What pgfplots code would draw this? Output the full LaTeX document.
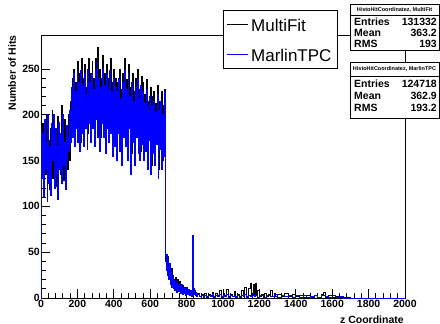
\documentclass[border=0pt]{standalone}
\usepackage{fontspec}
\setmainfont{Liberation Sans}
\usepackage{pgfplots}
\pgfplotsset{compat=1.18}
\begin{document}
\begin{tikzpicture}[x=1pt,y=1pt]
\begin{axis}[
  at={(41pt,26pt)}, anchor=south west,
  scale only axis, width=364pt, height=263pt,
  xmin=0, xmax=2000, ymin=0, ymax=287,
  xtick={0,200,...,2000}, ytick={0,50,...,250},
  minor x tick num=4, minor y tick num=4,
  tick pos=left, tick align=inside,
  major tick length=9pt, minor tick length=4.5pt,
  axis line style={line width=0.9pt},
  every tick/.style={black, line width=0.8pt},
  /pgf/number format/assume math mode=true,
  /pgf/number format/1000 sep={},
  tick label style={font=\fontsize{10.5}{12}\selectfont\bfseries},
  yticklabel style={inner sep=1pt},
  xticklabel style={inner sep=2pt},
  xlabel={z Coordinate},
  ylabel={Number of Hits},
  label style={font=\fontsize{10.5}{12}\selectfont\bfseries, inner sep=0pt},
  xlabel style={at={(axis description cs:0.997,-0.066)}, anchor=north east},
  ylabel style={at={(axis description cs:-0.068,1)}, anchor=south east},
  clip=false,
]
\addplot[black, line width=0.8pt, const plot] coordinates {
(0,0)(1,140)(5,150)(10,190)(15,125)(20,170)(25,135)(30,200)(35,140)(40,172)(45,118)(50,185)(55,150)(60,205)(65,130)(70,190)(75,155)(80,175)(85,122)(90,198)(95,145)(100,180)(105,135)(110,210)(115,150)(120,188)(125,128)(130,195)(135,160)(140,178)(145,140)(150,200)
(155,150)(160,215)(165,175)(170,240)(175,190)(180,250)(185,180)(190,235)(195,200)(200,258)(205,185)(210,245)(215,170)(220,262)(225,195)(230,240)(235,175)(240,255)(245,200)(250,230)(255,180)(260,262)(265,205)(270,245)(275,185)(280,258)(285,200)(290,240)(295,178)(300,262)(305,210)(310,273)(315,190)(320,250)(325,175)(330,240)(335,205)(340,265)(345,190)(350,245)(355,170)(360,255)(365,200)(370,240)(375,185)(380,262)(385,195)(390,235)(395,165)(400,250)
(405,180)(410,240)(415,160)(420,235)(425,195)(430,250)(435,175)(440,228)(445,155)(450,245)(455,190)(460,262)(465,180)(470,238)(475,165)(480,255)(485,200)(490,230)(495,158)(500,245)(505,185)(510,225)(515,150)(520,240)(525,190)(530,250)(535,170)(540,228)(545,160)(550,242)(555,180)(560,235)
(565,160)(570,222)(575,175)(580,238)(585,150)(590,215)(595,185)(600,230)(605,145)(610,220)(615,170)(620,225)(625,155)(630,212)(635,180)(640,232)(645,140)(650,215)(655,175)(660,225)(665,150)(670,210)(675,165)(680,228)(683,120)
(685,40)(690,30)(695,45)(700,25)(705,38)(710,20)(715,32)(720,18)(725,25)(730,15)(740,22)(745,12)(750,20)(755,10)(760,18)(765,8)(770,15)(775,9)(780,14)(785,6)(790,12)(795,7)(800,10)(805,5)(810,9)(815,4)(820,8)(825,5)(830,12)(835,20)(840,6)(845,8)(850,3)(860,5)(870,2)(880,4)(890,2)(900,5)(910,2)(920,4)(930,3)(940,6)(950,2)(960,5)(970,3)(980,8)(990,2)(1000,5)(1010,3)(1020,9)(1030,2)(1040,4)(1050,2)(1060,7)(1070,2)(1080,4)(1090,2)(1100,8)(1110,3)(1120,12)(1130,2)(1140,10)(1150,16)(1155,3)(1165,15)(1170,4)(1180,16)(1185,3)(1190,8)(1200,2)(1210,4)(1220,2)(1230,5)(1240,2)(1250,4)(1260,8)(1270,2)(1280,5)(1290,2)(1300,4)(1320,2)(1340,5)(1360,2)(1380,4)(1400,2)(1420,3)(1440,1)(1460,3)(1480,1)(1500,3)(1520,1)(1540,4)(1550,6)(1560,1)(1580,3)(1600,1)(1620,2)(1640,1)(1660,1)(1700,0)(2000,0)
};
\addplot[blue, line width=0.8pt, const plot] coordinates {
(0,0)(1,185)(2.5,130)(7.5,180)(12.5,110)(17.5,195)(22.5,140)(27.5,170)(32.5,105)(37.5,200)(42.5,125)(47.5,165)(52.5,112)(57.5,190)(62.5,150)(67.5,200)(72.5,120)(77.5,185)(82.5,135)(87.5,165)(92.5,108)(97.5,192)(102.5,140)(107.5,178)(112.5,125)(117.5,200)(122.5,145)(127.5,170)(132.5,118)(137.5,188)(142.5,150)(147.5,175)
(152.5,160)(157.5,205)(162.5,170)(167.5,230)(172.5,175)(177.5,245)(182.5,165)(187.5,225)(192.5,185)(197.5,250)(202.5,170)(207.5,235)(212.5,160)(217.5,248)(222.5,180)(227.5,232)(232.5,165)(237.5,245)(242.5,185)(247.5,222)(252.5,162)(257.5,250)(262.5,190)(267.5,235)(272.5,170)(277.5,245)(282.5,185)(287.5,228)(292.5,165)(297.5,250)(302.5,195)(307.5,258)(312.5,175)(317.5,240)(322.5,160)(327.5,230)(332.5,190)(337.5,250)(342.5,175)(347.5,232)(352.5,158)(357.5,245)(362.5,185)(367.5,228)(372.5,170)(377.5,248)(382.5,180)(387.5,225)(392.5,155)(397.5,240)
(402.5,165)(407.5,230)(412.5,150)(417.5,225)(422.5,180)(427.5,240)(432.5,160)(437.5,218)(442.5,145)(447.5,235)(452.5,175)(457.5,248)(462.5,165)(467.5,228)(472.5,150)(477.5,245)(482.5,185)(487.5,220)(492.5,135)(497.5,235)(502.5,170)(507.5,215)(512.5,145)(517.5,230)(522.5,175)(527.5,238)(532.5,158)(537.5,218)(542.5,150)(547.5,232)(552.5,168)(557.5,225)
(562.5,150)(567.5,212)(572.5,160)(577.5,228)(582.5,140)(587.5,205)(592.5,172)(597.5,220)(602.5,135)(607.5,210)(612.5,158)(617.5,215)(622.5,145)(627.5,202)(632.5,168)(637.5,222)(642.5,130)(647.5,205)(652.5,162)(657.5,215)(662.5,140)(667.5,200)(672.5,155)(677.5,225)(681,110)
(684,45)(687,30)(690,48)(694,25)(698,42)(702,20)(706,38)(710,15)(714,30)(718,12)(722,25)(726,10)(730,20)(735,8)(740,18)(745,6)(750,16)(755,7)(760,14)(765,5)(770,15)(775,4)(780,12)(785,5)(790,10)(795,3)(800,12)(805,4)(810,9)(815,3)(820,8)(825,2)(830,6)(832,4)(833,68)(838,3)(840,10)(845,4)(850,6)(855,2)(860,4)(870,2)(880,3)(890,1)(900,3)(910,1)(920,3)(930,2)(940,4)(950,1)(960,3)(970,2)(980,4)(990,1)(1000,3)(1010,2)(1020,4)(1030,1)(1040,3)(1050,2)(1060,3)(1070,1)(1080,3)(1090,1)(1100,3)(1110,2)(1120,4)(1130,1)(1140,3)(1150,2)(1160,4)(1170,2)(1180,3)(1190,1)(1200,3)(1220,1)(1240,3)(1260,2)(1280,4)(1300,1)(1320,3)(1340,2)(1360,3)(1380,1)(1400,3)(1420,1)(1440,3)(1460,1)(1480,2)(1500,3)(1520,1)(1540,3)(1560,2)(1580,1)(1600,3)(1620,1)(1640,2)(1660,0)(2000,0)
};
\end{axis}
% legend
\draw[fill=white, line width=0.6pt] (223,314) rectangle (337,256);
\draw[draw=black, line width=1pt] (227,299) -- (248,299);
\draw[draw=blue, line width=1pt] (227,269) -- (248,269);
\node[anchor=west, inner sep=0pt, font=\fontsize{17}{19}\selectfont] at (251,299) {MultiFit};
\node[anchor=west, inner sep=0pt, font=\fontsize{17}{19}\selectfont] at (251,269) {MarlinTPC};
% stats box 1
\draw[fill=white, line width=0.8pt] (350,320) rectangle (439,274);
\draw[line width=0.6pt] (350,309) -- (439,309);
\node[font=\fontsize{5.5}{6}\selectfont\bfseries, inner sep=0pt] at (394.5,314.5) {HistoHitCoordinatez, MultiFit};
\begin{scope}[every node/.style={font=\fontsize{10.5}{11}\selectfont\bfseries, inner sep=0pt}]
\node[anchor=west] at (354,302) {Entries};
\node[anchor=east] at (437,302) {131332};
\node[anchor=west] at (354,291) {Mean};
\node[anchor=east] at (437,291) {363.2};
\node[anchor=west] at (354,280) {RMS};
\node[anchor=east] at (437,280) {193};
\end{scope}
% stats box 2
\draw[fill=white, line width=0.8pt] (350,262) rectangle (439,206);
\draw[line width=0.6pt] (350,248) -- (439,248);
\node[font=\fontsize{5.5}{6}\selectfont\bfseries, inner sep=0pt] at (394.5,255) {HistoHitCoordinatez, MarlinTPC};
\begin{scope}[every node/.style={font=\fontsize{10.5}{11}\selectfont\bfseries, inner sep=0pt}]
\node[anchor=west] at (354,240) {Entries};
\node[anchor=east] at (437,240) {124718};
\node[anchor=west] at (354,228) {Mean};
\node[anchor=east] at (437,228) {362.9};
\node[anchor=west] at (354,216) {RMS};
\node[anchor=east] at (437,216) {193.2};
\end{scope}
\pgfresetboundingbox
\useasboundingbox (0,0) rectangle (440,324);
\end{tikzpicture}
\end{document}
